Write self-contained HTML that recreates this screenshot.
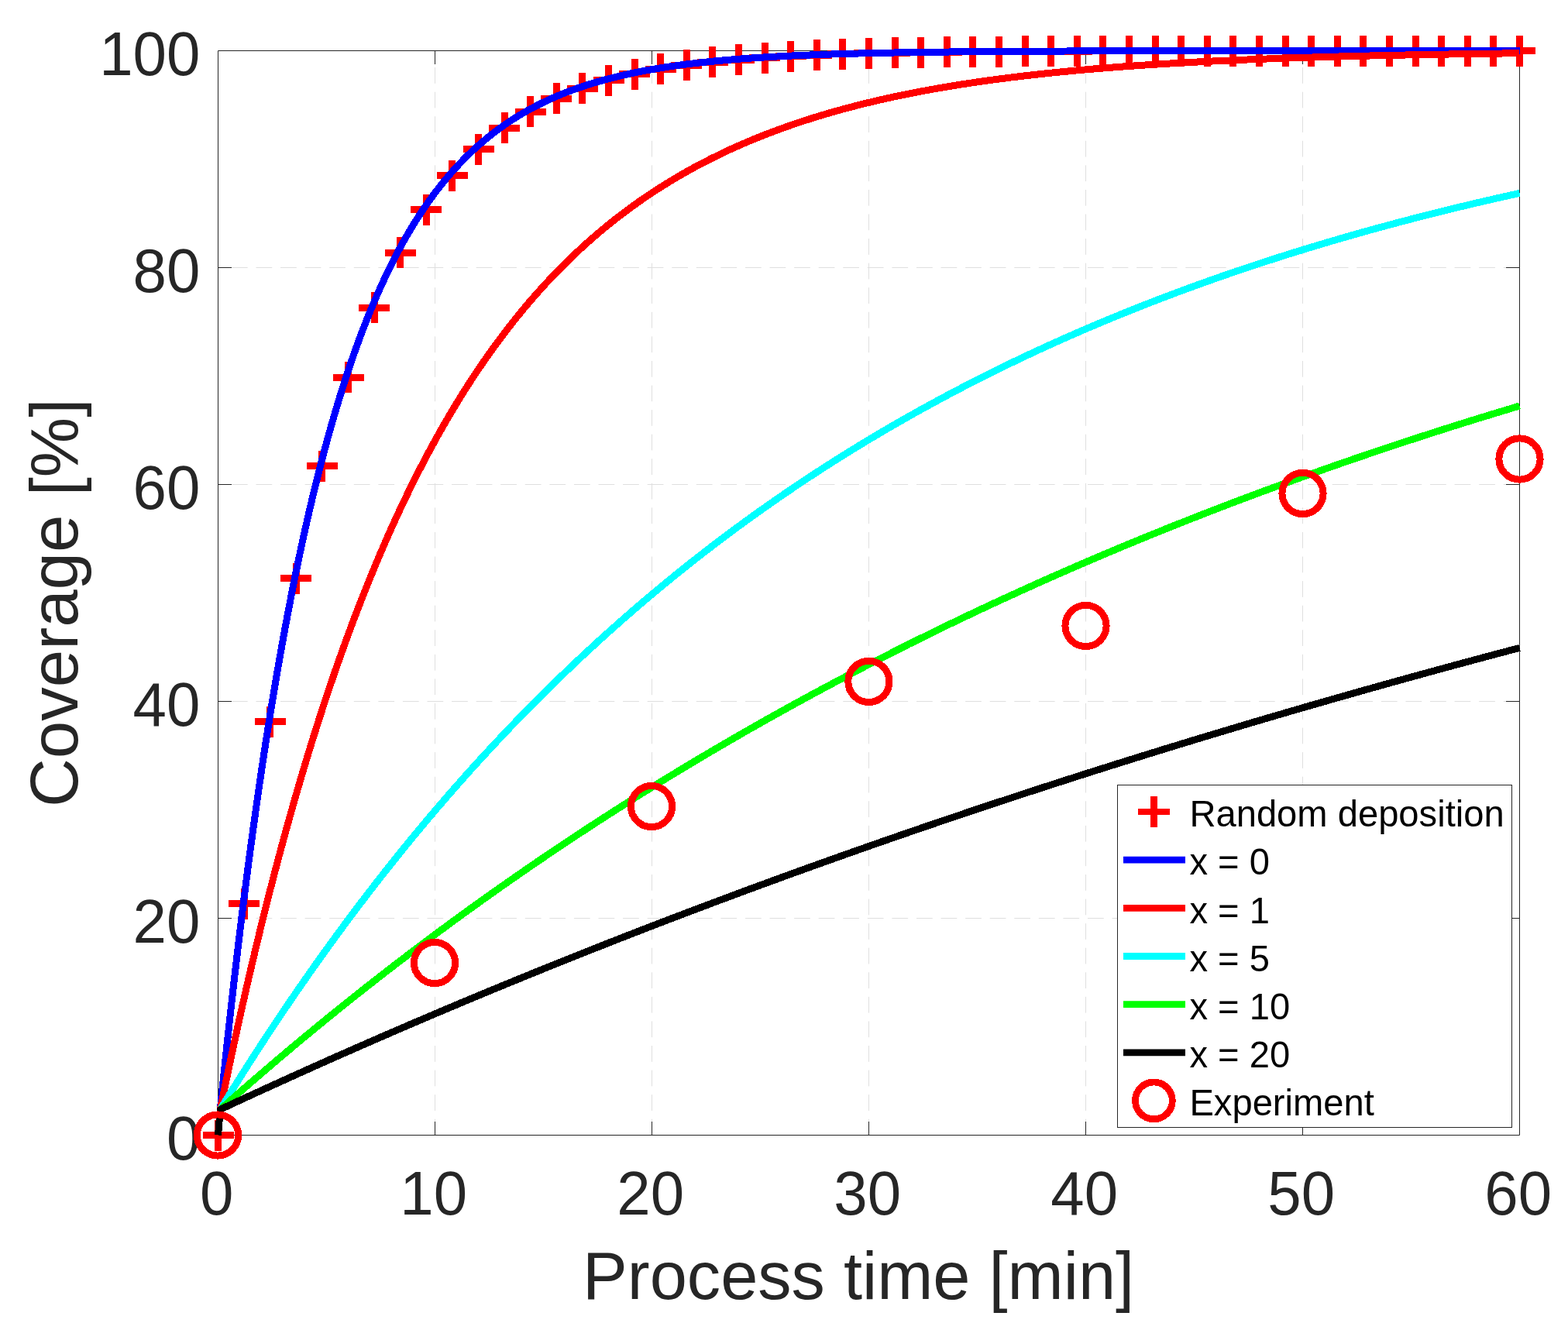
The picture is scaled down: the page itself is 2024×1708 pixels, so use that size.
<!DOCTYPE html><html><head><meta charset="utf-8"><title>Coverage vs process time</title>
<style>html,body{margin:0;padding:0;background:#fff;}svg{display:block;}text{font-family:"Liberation Sans",Arial,Helvetica,sans-serif;}</style></head><body>
<svg width="2024" height="1708" viewBox="0 0 2024 1708">
<rect x="0" y="0" width="2024" height="1708" fill="#ffffff"/>
<text transform="translate(279.7 1567.9) scale(1 1.02)" font-size="78.0" fill="#262626" text-anchor="middle">0</text>
<text transform="translate(559.7 1567.9) scale(1 1.02)" font-size="78.0" fill="#262626" text-anchor="middle">10</text>
<text transform="translate(839.7 1567.9) scale(1 1.02)" font-size="78.0" fill="#262626" text-anchor="middle">20</text>
<text transform="translate(1119.7 1567.9) scale(1 1.02)" font-size="78.0" fill="#262626" text-anchor="middle">30</text>
<text transform="translate(1399.7 1567.9) scale(1 1.02)" font-size="78.0" fill="#262626" text-anchor="middle">40</text>
<text transform="translate(1679.7 1567.9) scale(1 1.02)" font-size="78.0" fill="#262626" text-anchor="middle">50</text>
<text transform="translate(1959.7 1567.9) scale(1 1.02)" font-size="78.0" fill="#262626" text-anchor="middle">60</text>
<text transform="translate(258.3 1496.9) scale(1 1.02)" font-size="78.0" fill="#262626" text-anchor="end">0</text>
<text transform="translate(258.3 1216.9) scale(1 1.02)" font-size="78.0" fill="#262626" text-anchor="end">20</text>
<text transform="translate(258.3 936.9) scale(1 1.02)" font-size="78.0" fill="#262626" text-anchor="end">40</text>
<text transform="translate(258.3 656.9) scale(1 1.02)" font-size="78.0" fill="#262626" text-anchor="end">60</text>
<text transform="translate(258.3 376.9) scale(1 1.02)" font-size="78.0" fill="#262626" text-anchor="end">80</text>
<text transform="translate(258.3 96.9) scale(1 1.02)" font-size="78.0" fill="#262626" text-anchor="end">100</text>
<text transform="translate(752.1 1676.8) scale(1 1.01)" font-size="86.6" fill="#262626">Process time [min]</text>
<text transform="translate(99.6 1042.1) rotate(-90) scale(1 1.01)" font-size="87.1" fill="#262626">Coverage [%]</text>
<path d="M561.5 1465.5V65.5M841.5 1465.5V65.5M1121.5 1465.5V65.5M1401.5 1465.5V65.5M1681.5 1465.5V65.5" stroke="#dfdfdf" stroke-width="1" fill="none" stroke-dasharray="20.75 10.824"/>
<path d="M1961.5 1185.5H281.5M1961.5 905.5H281.5M1961.5 625.5H281.5M1961.5 345.5H281.5" stroke="#dfdfdf" stroke-width="1" fill="none" stroke-dasharray="20.75 10.824"/>
<path d="M281.5 65.5H1961.5V1465.5H281.5ZM561.5 1465.5v-17.5M561.5 65.5v17.5M841.5 1465.5v-17.5M841.5 65.5v17.5M1121.5 1465.5v-17.5M1121.5 65.5v17.5M1401.5 1465.5v-17.5M1401.5 65.5v17.5M1681.5 1465.5v-17.5M1681.5 65.5v17.5M281.5 1185.5h17.5M1961.5 1185.5h-17.5M281.5 905.5h17.5M1961.5 905.5h-17.5M281.5 625.5h17.5M1961.5 625.5h-17.5M281.5 345.5h17.5M1961.5 345.5h-17.5" stroke="#262626" stroke-width="1" fill="none"/>
<path d="M261.50 1465.50h40M281.50 1445.50v40M295.10 1166.78h40M315.10 1146.78v40M328.70 931.80h40M348.70 911.80v40M362.30 746.95h40M382.30 726.95v40M395.90 601.55h40M415.90 581.55v40M429.50 487.17h40M449.50 467.17v40M463.10 397.20h40M483.10 377.20v40M496.70 326.42h40M516.70 306.42v40M530.30 270.75h40M550.30 250.75v40M563.90 226.96h40M583.90 206.96v40M597.50 192.51h40M617.50 172.51v40M631.10 165.41h40M651.10 145.41v40M664.70 144.09h40M684.70 124.09v40M698.30 127.32h40M718.30 107.32v40M731.90 114.13h40M751.90 94.13v40M765.50 103.75h40M785.50 83.75v40M799.10 95.59h40M819.10 75.59v40M832.70 89.17h40M852.70 69.17v40M866.30 84.12h40M886.30 64.12v40M899.90 80.15h40M919.90 60.15v40M933.50 77.02h40M953.50 57.02v40M967.10 74.56h40M987.10 54.56v40M1000.70 72.63h40M1020.70 52.63v40M1034.30 71.11h40M1054.30 51.11v40M1067.90 69.91h40M1087.90 49.91v40M1101.50 68.97h40M1121.50 48.97v40M1135.10 68.23h40M1155.10 48.23v40M1168.70 67.65h40M1188.70 47.65v40M1202.30 67.19h40M1222.30 47.19v40M1235.90 66.83h40M1255.90 46.83v40M1269.50 66.55h40M1289.50 46.55v40M1303.10 66.32h40M1323.10 46.32v40M1336.70 66.15h40M1356.70 46.15v40M1370.30 66.01h40M1390.30 46.01v40M1403.90 65.90h40M1423.90 45.90v40M1437.50 65.81h40M1457.50 45.81v40M1471.10 65.75h40M1491.10 45.75v40M1504.70 65.69h40M1524.70 45.69v40M1538.30 65.65h40M1558.30 45.65v40M1571.90 65.62h40M1591.90 45.62v40M1605.50 65.59h40M1625.50 45.59v40M1639.10 65.57h40M1659.10 45.57v40M1672.70 65.56h40M1692.70 45.56v40M1706.30 65.55h40M1726.30 45.55v40M1739.90 65.54h40M1759.90 45.54v40M1773.50 65.53h40M1793.50 45.53v40M1807.10 65.52h40M1827.10 45.52v40M1840.70 65.52h40M1860.70 45.52v40M1874.30 65.51h40M1894.30 45.51v40M1907.90 65.51h40M1927.90 45.51v40M1941.50 65.51h40M1961.50 45.51v40" stroke="#ff0000" stroke-width="9" fill="none" shape-rendering="crispEdges"/>
<path d="M281.50 1465.50L284.30 1432.32L287.10 1404.92L289.89 1378.07L292.69 1351.76L295.48 1325.97L298.28 1300.70L301.07 1275.94L303.87 1251.68L306.66 1227.90L309.46 1204.60L312.25 1181.76L315.05 1159.38L317.84 1137.46L320.64 1115.97L323.43 1094.91L326.23 1074.27L329.03 1054.05L331.82 1034.23L334.62 1014.81L337.41 995.78L340.21 977.13L343.00 958.86L345.80 940.95L348.59 923.40L351.39 906.20L354.18 889.35L356.98 872.83L359.77 856.65L362.57 840.79L365.36 825.25L368.16 810.02L370.96 795.09L373.75 780.47L376.55 766.13L379.34 752.09L382.14 738.33L384.93 724.84L387.73 711.62L390.52 698.67L393.32 685.98L396.11 673.54L398.91 661.35L401.70 649.40L404.50 637.70L407.29 626.23L410.09 614.99L412.89 603.97L415.68 593.18L418.48 582.60L421.27 572.23L424.07 562.07L426.86 552.12L429.66 542.36L432.45 532.81L435.25 523.44L438.04 514.26L440.84 505.26L443.63 496.45L446.43 487.81L449.22 479.34L452.02 471.05L454.82 462.92L457.61 454.95L460.41 447.14L463.20 439.49L466.00 431.99L468.79 424.65L471.59 417.45L474.38 410.39L477.18 403.48L479.97 396.70L482.77 390.06L485.56 383.56L488.36 377.18L491.15 370.93L493.95 364.81L496.75 358.81L499.54 352.93L502.34 347.17L505.13 341.52L507.93 335.99L510.72 330.57L513.52 325.25L516.31 320.05L519.11 314.94L521.90 309.94L524.70 305.04L527.49 300.24L530.29 295.53L533.08 290.92L535.88 286.40L538.68 281.98L541.47 277.64L544.27 273.38L547.06 269.22L549.86 265.13L552.65 261.13L555.45 257.21L558.24 253.37L561.04 249.60L563.83 245.91L566.63 242.29L569.42 238.75L572.22 235.28L575.01 231.87L577.81 228.54L580.61 225.27L583.40 222.07L586.20 218.93L588.99 215.85L591.79 212.84L594.58 209.88L597.38 206.99L600.17 204.15L602.97 201.37L605.76 198.65L608.56 195.98L611.35 193.36L614.15 190.80L616.94 188.29L619.74 185.83L622.54 183.42L625.33 181.05L628.13 178.74L630.92 176.47L633.72 174.24L636.51 172.06L639.31 169.93L642.10 167.83L644.90 165.78L647.69 163.77L650.49 161.80L653.28 159.87L656.08 157.98L658.87 156.12L661.67 154.31L664.47 152.53L667.26 150.78L670.06 149.07L672.85 147.40L675.65 145.76L678.44 144.15L681.24 142.57L684.03 141.03L686.83 139.51L689.62 138.03L692.42 136.57L695.21 135.15L698.01 133.75L700.80 132.38L703.60 131.04L706.40 129.73L709.19 128.44L711.99 127.18L714.78 125.94L717.58 124.73L720.37 123.54L723.17 122.38L725.96 121.24L728.76 120.12L731.55 119.03L734.35 117.96L737.14 116.90L739.94 115.87L742.73 114.86L745.53 113.87L748.33 112.90L751.12 111.95L753.92 111.02L756.71 110.11L759.51 109.22L762.30 108.34L765.10 107.48L767.89 106.64L770.69 105.81L773.48 105.01L776.28 104.21L779.07 103.44L781.87 102.68L784.66 101.93L787.46 101.20L790.26 100.49L793.05 99.79L795.85 99.10L798.64 98.42L801.44 97.76L804.23 97.12L807.03 96.48L809.82 95.86L812.62 95.25L815.41 94.66L818.21 94.07L821.00 93.50L823.80 92.94L826.59 92.39L829.39 91.85L832.19 91.32L834.98 90.80L837.78 90.30L840.57 89.80L843.37 89.31L846.16 88.84L848.96 88.37L851.75 87.91L854.55 87.46L857.34 87.02L860.14 86.59L862.93 86.17L865.73 85.75L868.52 85.35L871.32 84.95L874.12 84.56L876.91 84.18L879.71 83.80L882.50 83.43L885.30 83.07L888.09 82.72L890.89 82.38L893.68 82.04L896.48 81.71L899.27 81.38L902.07 81.06L904.86 80.75L907.66 80.45L910.45 80.15L913.25 79.85L916.05 79.57L918.84 79.28L921.64 79.01L924.43 78.74L927.23 78.47L930.02 78.21L932.82 77.96L935.61 77.71L938.41 77.46L941.20 77.22L944.00 76.99L946.79 76.76L949.59 76.53L952.38 76.31L955.18 76.09L957.98 75.88L960.77 75.67L963.57 75.47L966.36 75.27L969.16 75.07L971.95 74.88L974.75 74.69L977.54 74.51L980.34 74.33L983.13 74.15L985.93 73.98L988.72 73.81L991.52 73.64L994.31 73.48L997.11 73.32L999.91 73.16L1002.70 73.01L1005.50 72.86L1008.29 72.71L1011.09 72.57L1013.88 72.42L1016.68 72.28L1019.47 72.15L1022.27 72.02L1025.06 71.88L1027.86 71.76L1030.65 71.63L1033.45 71.51L1036.24 71.39L1039.04 71.27L1041.84 71.15L1044.63 71.04L1047.43 70.93L1050.22 70.82L1053.02 70.71L1055.81 70.61L1058.61 70.51L1061.40 70.41L1064.20 70.31L1066.99 70.21L1069.79 70.12L1072.58 70.03L1075.38 69.93L1078.17 69.85L1080.97 69.76L1083.77 69.67L1086.56 69.59L1089.36 69.51L1092.15 69.43L1094.95 69.35L1097.74 69.27L1100.54 69.20L1103.33 69.12L1106.13 69.05L1108.92 68.98L1111.72 68.91L1114.51 68.84L1117.31 68.77L1120.10 68.71L1122.90 68.64L1125.70 68.58L1128.49 68.52L1131.29 68.46L1134.08 68.40L1136.88 68.34L1139.67 68.28L1142.47 68.23L1145.26 68.17L1148.06 68.12L1150.85 68.07L1153.65 68.02L1156.44 67.96L1159.24 67.92L1162.03 67.87L1164.83 67.82L1167.63 67.77L1170.42 67.73L1173.22 67.68L1176.01 67.64L1178.81 67.60L1181.60 67.55L1184.40 67.51L1187.19 67.47L1189.99 67.43L1192.78 67.39L1195.58 67.36L1198.37 67.32L1201.17 67.28L1203.96 67.25L1206.76 67.21L1209.56 67.18L1212.35 67.14L1215.15 67.11L1217.94 67.08L1220.74 67.05L1223.53 67.02L1226.33 66.99L1229.12 66.96L1231.92 66.93L1234.71 66.90L1237.51 66.87L1240.30 66.84L1243.10 66.82L1245.89 66.79L1248.69 66.76L1251.49 66.74L1254.28 66.71L1257.08 66.69L1259.87 66.67L1262.67 66.64L1265.46 66.62L1268.26 66.60L1271.05 66.57L1273.85 66.55L1276.64 66.53L1279.44 66.51L1282.23 66.49L1285.03 66.47L1287.82 66.45L1290.62 66.43L1293.42 66.41L1296.21 66.40L1299.01 66.38L1301.80 66.36L1304.60 66.34L1307.39 66.33L1310.19 66.31L1312.98 66.29L1315.78 66.28L1318.57 66.26L1321.37 66.25L1324.16 66.23L1326.96 66.22L1329.75 66.20L1332.55 66.19L1335.35 66.17L1338.14 66.16L1340.94 66.15L1343.73 66.13L1346.53 66.12L1349.32 66.11L1352.12 66.10L1354.91 66.09L1357.71 66.07L1360.50 66.06L1363.30 66.05L1366.09 66.04L1368.89 66.03L1371.68 66.02L1374.48 66.01L1377.28 66.00L1380.07 65.99L1382.87 65.98L1385.66 65.97L1388.46 65.96L1391.25 65.95L1394.05 65.94L1396.84 65.93L1399.64 65.92L1402.43 65.91L1405.23 65.91L1408.02 65.90L1410.82 65.89L1413.61 65.88L1416.41 65.87L1419.21 65.87L1422.00 65.86L1424.80 65.85L1427.59 65.85L1430.39 65.84L1433.18 65.83L1435.98 65.83L1438.77 65.82L1441.57 65.81L1444.36 65.81L1447.16 65.80L1449.95 65.79L1452.75 65.79L1455.54 65.78L1458.34 65.78L1461.14 65.77L1463.93 65.77L1466.73 65.76L1469.52 65.76L1472.32 65.75L1475.11 65.75L1477.91 65.74L1480.70 65.74L1483.50 65.73L1486.29 65.73L1489.09 65.72L1491.88 65.72L1494.68 65.71L1497.47 65.71L1500.27 65.70L1503.07 65.70L1505.86 65.70L1508.66 65.69L1511.45 65.69L1514.25 65.68L1517.04 65.68L1519.84 65.68L1522.63 65.67L1525.43 65.67L1528.22 65.67L1531.02 65.66L1533.81 65.66L1536.61 65.66L1539.40 65.65L1542.20 65.65L1545.00 65.65L1547.79 65.64L1550.59 65.64L1553.38 65.64L1556.18 65.64L1558.97 65.63L1561.77 65.63L1564.56 65.63L1567.36 65.63L1570.15 65.62L1572.95 65.62L1575.74 65.62L1578.54 65.62L1581.33 65.61L1584.13 65.61L1586.93 65.61L1589.72 65.61L1592.52 65.60L1595.31 65.60L1598.11 65.60L1600.90 65.60L1603.70 65.60L1606.49 65.59L1609.29 65.59L1612.08 65.59L1614.88 65.59L1617.67 65.59L1620.47 65.59L1623.26 65.58L1626.06 65.58L1628.86 65.58L1631.65 65.58L1634.45 65.58L1637.24 65.58L1640.04 65.57L1642.83 65.57L1645.63 65.57L1648.42 65.57L1651.22 65.57L1654.01 65.57L1656.81 65.57L1659.60 65.56L1662.40 65.56L1665.19 65.56L1667.99 65.56L1670.79 65.56L1673.58 65.56L1676.38 65.56L1679.17 65.56L1681.97 65.55L1684.76 65.55L1687.56 65.55L1690.35 65.55L1693.15 65.55L1695.94 65.55L1698.74 65.55L1701.53 65.55L1704.33 65.55L1707.12 65.55L1709.92 65.54L1712.72 65.54L1715.51 65.54L1718.31 65.54L1721.10 65.54L1723.90 65.54L1726.69 65.54L1729.49 65.54L1732.28 65.54L1735.08 65.54L1737.87 65.54L1740.67 65.54L1743.46 65.54L1746.26 65.53L1749.05 65.53L1751.85 65.53L1754.65 65.53L1757.44 65.53L1760.24 65.53L1763.03 65.53L1765.83 65.53L1768.62 65.53L1771.42 65.53L1774.21 65.53L1777.01 65.53L1779.80 65.53L1782.60 65.53L1785.39 65.53L1788.19 65.53L1790.98 65.52L1793.78 65.52L1796.58 65.52L1799.37 65.52L1802.17 65.52L1804.96 65.52L1807.76 65.52L1810.55 65.52L1813.35 65.52L1816.14 65.52L1818.94 65.52L1821.73 65.52L1824.53 65.52L1827.32 65.52L1830.12 65.52L1832.91 65.52L1835.71 65.52L1838.51 65.52L1841.30 65.52L1844.10 65.52L1846.89 65.52L1849.69 65.52L1852.48 65.52L1855.28 65.52L1858.07 65.52L1860.87 65.51L1863.66 65.51L1866.46 65.51L1869.25 65.51L1872.05 65.51L1874.84 65.51L1877.64 65.51L1880.44 65.51L1883.23 65.51L1886.03 65.51L1888.82 65.51L1891.62 65.51L1894.41 65.51L1897.21 65.51L1900.00 65.51L1902.80 65.51L1905.59 65.51L1908.39 65.51L1911.18 65.51L1913.98 65.51L1916.77 65.51L1919.57 65.51L1922.37 65.51L1925.16 65.51L1927.96 65.51L1930.75 65.51L1933.55 65.51L1936.34 65.51L1939.14 65.51L1941.93 65.51L1944.73 65.51L1947.52 65.51L1950.32 65.51L1953.11 65.51L1955.91 65.51L1958.70 65.51L1961.50 65.51" stroke="#0000ff" stroke-width="9.0" fill="none" stroke-linejoin="round" stroke-linecap="butt" shape-rendering="crispEdges"/>
<path d="M281.50 1465.50L284.30 1432.32L287.10 1418.62L289.89 1405.06L292.69 1391.63L295.48 1378.34L298.28 1365.18L301.07 1352.15L303.87 1339.25L306.66 1326.49L309.46 1313.85L312.25 1301.34L315.05 1288.95L317.84 1276.68L320.64 1264.54L323.43 1252.53L326.23 1240.63L329.03 1228.85L331.82 1217.19L334.62 1205.64L337.41 1194.22L340.21 1182.90L343.00 1171.70L345.80 1160.61L348.59 1149.64L351.39 1138.77L354.18 1128.01L356.98 1117.36L359.77 1106.82L362.57 1096.38L365.36 1086.05L368.16 1075.82L370.96 1065.69L373.75 1055.67L376.55 1045.74L379.34 1035.92L382.14 1026.19L384.93 1016.56L387.73 1007.03L390.52 997.59L393.32 988.25L396.11 979.00L398.91 969.84L401.70 960.78L404.50 951.80L407.29 942.92L410.09 934.13L412.89 925.42L415.68 916.80L418.48 908.27L421.27 899.82L424.07 891.46L426.86 883.18L429.66 874.98L432.45 866.87L435.25 858.84L438.04 850.88L440.84 843.01L443.63 835.22L446.43 827.50L449.22 819.86L452.02 812.30L454.82 804.82L457.61 797.41L460.41 790.07L463.20 782.81L466.00 775.62L468.79 768.50L471.59 761.45L474.38 754.48L477.18 747.57L479.97 740.74L482.77 733.97L485.56 727.27L488.36 720.63L491.15 714.07L493.95 707.57L496.75 701.13L499.54 694.76L502.34 688.45L505.13 682.21L507.93 676.03L510.72 669.91L513.52 663.85L516.31 657.85L519.11 651.91L521.90 646.04L524.70 640.22L527.49 634.46L530.29 628.75L533.08 623.11L535.88 617.52L538.68 611.99L541.47 606.51L544.27 601.09L547.06 595.72L549.86 590.40L552.65 585.14L555.45 579.93L558.24 574.78L561.04 569.67L563.83 564.62L566.63 559.61L569.42 554.66L572.22 549.76L575.01 544.91L577.81 540.10L580.61 535.34L583.40 530.63L586.20 525.97L588.99 521.36L591.79 516.79L594.58 512.26L597.38 507.78L600.17 503.35L602.97 498.96L605.76 494.62L608.56 490.32L611.35 486.06L614.15 481.84L616.94 477.67L619.74 473.54L622.54 469.45L625.33 465.40L628.13 461.39L630.92 457.42L633.72 453.49L636.51 449.61L639.31 445.76L642.10 441.94L644.90 438.17L647.69 434.44L650.49 430.74L653.28 427.08L656.08 423.45L658.87 419.86L661.67 416.31L664.47 412.80L667.26 409.32L670.06 405.87L672.85 402.46L675.65 399.08L678.44 395.74L681.24 392.43L684.03 389.15L686.83 385.91L689.62 382.69L692.42 379.51L695.21 376.37L698.01 373.25L700.80 370.17L703.60 367.11L706.40 364.09L709.19 361.10L711.99 358.13L714.78 355.20L717.58 352.30L720.37 349.42L723.17 346.58L725.96 343.76L728.76 340.97L731.55 338.21L734.35 335.47L737.14 332.77L739.94 330.09L742.73 327.44L745.53 324.81L748.33 322.21L751.12 319.64L753.92 317.09L756.71 314.57L759.51 312.07L762.30 309.60L765.10 307.16L767.89 304.73L770.69 302.34L773.48 299.96L776.28 297.61L779.07 295.29L781.87 292.98L784.66 290.70L787.46 288.44L790.26 286.21L793.05 284.00L795.85 281.81L798.64 279.64L801.44 277.49L804.23 275.37L807.03 273.26L809.82 271.18L812.62 269.12L815.41 267.08L818.21 265.06L821.00 263.06L823.80 261.08L826.59 259.12L829.39 257.18L832.19 255.26L834.98 253.35L837.78 251.47L840.57 249.61L843.37 247.76L846.16 245.93L848.96 244.13L851.75 242.34L854.55 240.56L857.34 238.81L860.14 237.07L862.93 235.35L865.73 233.65L868.52 231.96L871.32 230.30L874.12 228.64L876.91 227.01L879.71 225.39L882.50 223.79L885.30 222.20L888.09 220.63L890.89 219.07L893.68 217.53L896.48 216.01L899.27 214.50L902.07 213.01L904.86 211.53L907.66 210.07L910.45 208.62L913.25 207.18L916.05 205.76L918.84 204.36L921.64 202.97L924.43 201.59L927.23 200.22L930.02 198.87L932.82 197.54L935.61 196.21L938.41 194.90L941.20 193.61L944.00 192.32L946.79 191.05L949.59 189.79L952.38 188.55L955.18 187.31L957.98 186.09L960.77 184.88L963.57 183.69L966.36 182.50L969.16 181.33L971.95 180.17L974.75 179.02L977.54 177.88L980.34 176.75L983.13 175.64L985.93 174.53L988.72 173.44L991.52 172.36L994.31 171.29L997.11 170.23L999.91 169.18L1002.70 168.14L1005.50 167.11L1008.29 166.09L1011.09 165.08L1013.88 164.09L1016.68 163.10L1019.47 162.12L1022.27 161.15L1025.06 160.19L1027.86 159.24L1030.65 158.30L1033.45 157.37L1036.24 156.45L1039.04 155.54L1041.84 154.64L1044.63 153.74L1047.43 152.86L1050.22 151.98L1053.02 151.12L1055.81 150.26L1058.61 149.41L1061.40 148.57L1064.20 147.74L1066.99 146.91L1069.79 146.10L1072.58 145.29L1075.38 144.49L1078.17 143.70L1080.97 142.91L1083.77 142.14L1086.56 141.37L1089.36 140.61L1092.15 139.86L1094.95 139.11L1097.74 138.37L1100.54 137.64L1103.33 136.92L1106.13 136.20L1108.92 135.49L1111.72 134.79L1114.51 134.10L1117.31 133.41L1120.10 132.73L1122.90 132.06L1125.70 131.39L1128.49 130.73L1131.29 130.07L1134.08 129.43L1136.88 128.79L1139.67 128.15L1142.47 127.52L1145.26 126.90L1148.06 126.29L1150.85 125.68L1153.65 125.07L1156.44 124.48L1159.24 123.89L1162.03 123.30L1164.83 122.72L1167.63 122.15L1170.42 121.58L1173.22 121.02L1176.01 120.46L1178.81 119.91L1181.60 119.37L1184.40 118.83L1187.19 118.29L1189.99 117.76L1192.78 117.24L1195.58 116.72L1198.37 116.21L1201.17 115.70L1203.96 115.19L1206.76 114.70L1209.56 114.20L1212.35 113.72L1215.15 113.23L1217.94 112.75L1220.74 112.28L1223.53 111.81L1226.33 111.35L1229.12 110.89L1231.92 110.43L1234.71 109.98L1237.51 109.54L1240.30 109.09L1243.10 108.66L1245.89 108.23L1248.69 107.80L1251.49 107.37L1254.28 106.95L1257.08 106.54L1259.87 106.13L1262.67 105.72L1265.46 105.32L1268.26 104.92L1271.05 104.52L1273.85 104.13L1276.64 103.74L1279.44 103.36L1282.23 102.98L1285.03 102.60L1287.82 102.23L1290.62 101.86L1293.42 101.50L1296.21 101.14L1299.01 100.78L1301.80 100.43L1304.60 100.08L1307.39 99.73L1310.19 99.39L1312.98 99.05L1315.78 98.71L1318.57 98.38L1321.37 98.05L1324.16 97.72L1326.96 97.40L1329.75 97.08L1332.55 96.76L1335.35 96.45L1338.14 96.14L1340.94 95.83L1343.73 95.53L1346.53 95.23L1349.32 94.93L1352.12 94.64L1354.91 94.34L1357.71 94.05L1360.50 93.77L1363.30 93.49L1366.09 93.20L1368.89 92.93L1371.68 92.65L1374.48 92.38L1377.28 92.11L1380.07 91.84L1382.87 91.58L1385.66 91.32L1388.46 91.06L1391.25 90.80L1394.05 90.55L1396.84 90.30L1399.64 90.05L1402.43 89.80L1405.23 89.56L1408.02 89.32L1410.82 89.08L1413.61 88.84L1416.41 88.61L1419.21 88.38L1422.00 88.15L1424.80 87.92L1427.59 87.70L1430.39 87.47L1433.18 87.25L1435.98 87.04L1438.77 86.82L1441.57 86.61L1444.36 86.40L1447.16 86.19L1449.95 85.98L1452.75 85.77L1455.54 85.57L1458.34 85.37L1461.14 85.17L1463.93 84.97L1466.73 84.78L1469.52 84.58L1472.32 84.39L1475.11 84.20L1477.91 84.02L1480.70 83.83L1483.50 83.65L1486.29 83.46L1489.09 83.28L1491.88 83.11L1494.68 82.93L1497.47 82.76L1500.27 82.58L1503.07 82.41L1505.86 82.24L1508.66 82.07L1511.45 81.91L1514.25 81.74L1517.04 81.58L1519.84 81.42L1522.63 81.26L1525.43 81.10L1528.22 80.95L1531.02 80.79L1533.81 80.64L1536.61 80.49L1539.40 80.34L1542.20 80.19L1545.00 80.04L1547.79 79.89L1550.59 79.75L1553.38 79.61L1556.18 79.47L1558.97 79.33L1561.77 79.19L1564.56 79.05L1567.36 78.91L1570.15 78.78L1572.95 78.65L1575.74 78.51L1578.54 78.38L1581.33 78.25L1584.13 78.13L1586.93 78.00L1589.72 77.88L1592.52 77.75L1595.31 77.63L1598.11 77.51L1600.90 77.39L1603.70 77.27L1606.49 77.15L1609.29 77.03L1612.08 76.92L1614.88 76.80L1617.67 76.69L1620.47 76.58L1623.26 76.47L1626.06 76.36L1628.86 76.25L1631.65 76.14L1634.45 76.03L1637.24 75.93L1640.04 75.82L1642.83 75.72L1645.63 75.62L1648.42 75.52L1651.22 75.42L1654.01 75.32L1656.81 75.22L1659.60 75.12L1662.40 75.02L1665.19 74.93L1667.99 74.83L1670.79 74.74L1673.58 74.65L1676.38 74.56L1679.17 74.46L1681.97 74.38L1684.76 74.29L1687.56 74.20L1690.35 74.11L1693.15 74.02L1695.94 73.94L1698.74 73.85L1701.53 73.77L1704.33 73.69L1707.12 73.61L1709.92 73.52L1712.72 73.44L1715.51 73.36L1718.31 73.29L1721.10 73.21L1723.90 73.13L1726.69 73.05L1729.49 72.98L1732.28 72.90L1735.08 72.83L1737.87 72.76L1740.67 72.68L1743.46 72.61L1746.26 72.54L1749.05 72.47L1751.85 72.40L1754.65 72.33L1757.44 72.26L1760.24 72.19L1763.03 72.13L1765.83 72.06L1768.62 71.99L1771.42 71.93L1774.21 71.86L1777.01 71.80L1779.80 71.74L1782.60 71.68L1785.39 71.61L1788.19 71.55L1790.98 71.49L1793.78 71.43L1796.58 71.37L1799.37 71.31L1802.17 71.25L1804.96 71.20L1807.76 71.14L1810.55 71.08L1813.35 71.03L1816.14 70.97L1818.94 70.92L1821.73 70.86L1824.53 70.81L1827.32 70.76L1830.12 70.70L1832.91 70.65L1835.71 70.60L1838.51 70.55L1841.30 70.50L1844.10 70.45L1846.89 70.40L1849.69 70.35L1852.48 70.30L1855.28 70.25L1858.07 70.20L1860.87 70.16L1863.66 70.11L1866.46 70.06L1869.25 70.02L1872.05 69.97L1874.84 69.93L1877.64 69.88L1880.44 69.84L1883.23 69.80L1886.03 69.75L1888.82 69.71L1891.62 69.67L1894.41 69.63L1897.21 69.59L1900.00 69.54L1902.80 69.50L1905.59 69.46L1908.39 69.42L1911.18 69.39L1913.98 69.35L1916.77 69.31L1919.57 69.27L1922.37 69.23L1925.16 69.19L1927.96 69.16L1930.75 69.12L1933.55 69.08L1936.34 69.05L1939.14 69.01L1941.93 68.98L1944.73 68.94L1947.52 68.91L1950.32 68.87L1953.11 68.84L1955.91 68.81L1958.70 68.77L1961.50 68.74" stroke="#ff0000" stroke-width="9.0" fill="none" stroke-linejoin="round" stroke-linecap="butt" shape-rendering="crispEdges"/>
<path d="M281.50 1465.50L284.30 1432.32L287.10 1427.76L289.89 1423.21L292.69 1418.68L295.48 1414.16L298.28 1409.66L301.07 1405.17L303.87 1400.70L306.66 1396.25L309.46 1391.80L312.25 1387.38L315.05 1382.97L317.84 1378.57L320.64 1374.19L323.43 1369.82L326.23 1365.46L329.03 1361.12L331.82 1356.80L334.62 1352.49L337.41 1348.19L340.21 1343.91L343.00 1339.65L345.80 1335.39L348.59 1331.15L351.39 1326.93L354.18 1322.72L356.98 1318.52L359.77 1314.34L362.57 1310.17L365.36 1306.02L368.16 1301.88L370.96 1297.75L373.75 1293.64L376.55 1289.54L379.34 1285.45L382.14 1281.38L384.93 1277.32L387.73 1273.28L390.52 1269.25L393.32 1265.23L396.11 1261.22L398.91 1257.23L401.70 1253.25L404.50 1249.29L407.29 1245.34L410.09 1241.40L412.89 1237.48L415.68 1233.56L418.48 1229.67L421.27 1225.78L424.07 1221.91L426.86 1218.05L429.66 1214.20L432.45 1210.37L435.25 1206.54L438.04 1202.74L440.84 1198.94L443.63 1195.16L446.43 1191.39L449.22 1187.63L452.02 1183.88L454.82 1180.15L457.61 1176.43L460.41 1172.72L463.20 1169.03L466.00 1165.34L468.79 1161.67L471.59 1158.01L474.38 1154.37L477.18 1150.73L479.97 1147.11L482.77 1143.50L485.56 1139.90L488.36 1136.32L491.15 1132.74L493.95 1129.18L496.75 1125.63L499.54 1122.09L502.34 1118.56L505.13 1115.05L507.93 1111.55L510.72 1108.05L513.52 1104.57L516.31 1101.11L519.11 1097.65L521.90 1094.20L524.70 1090.77L527.49 1087.35L530.29 1083.94L533.08 1080.54L535.88 1077.15L538.68 1073.77L541.47 1070.41L544.27 1067.05L547.06 1063.71L549.86 1060.38L552.65 1057.06L555.45 1053.75L558.24 1050.45L561.04 1047.16L563.83 1043.89L566.63 1040.62L569.42 1037.37L572.22 1034.12L575.01 1030.89L577.81 1027.67L580.61 1024.45L583.40 1021.25L586.20 1018.06L588.99 1014.88L591.79 1011.72L594.58 1008.56L597.38 1005.41L600.17 1002.27L602.97 999.15L605.76 996.03L608.56 992.92L611.35 989.83L614.15 986.74L616.94 983.67L619.74 980.60L622.54 977.55L625.33 974.50L628.13 971.47L630.92 968.45L633.72 965.43L636.51 962.43L639.31 959.43L642.10 956.45L644.90 953.48L647.69 950.51L650.49 947.56L653.28 944.62L656.08 941.68L658.87 938.76L661.67 935.84L664.47 932.94L667.26 930.04L670.06 927.16L672.85 924.28L675.65 921.41L678.44 918.56L681.24 915.71L684.03 912.87L686.83 910.04L689.62 907.22L692.42 904.41L695.21 901.61L698.01 898.82L700.80 896.04L703.60 893.27L706.40 890.51L709.19 887.75L711.99 885.01L714.78 882.27L717.58 879.55L720.37 876.83L723.17 874.12L725.96 871.42L728.76 868.73L731.55 866.05L734.35 863.38L737.14 860.72L739.94 858.06L742.73 855.42L745.53 852.78L748.33 850.15L751.12 847.53L753.92 844.92L756.71 842.32L759.51 839.73L762.30 837.14L765.10 834.57L767.89 832.00L770.69 829.44L773.48 826.89L776.28 824.35L779.07 821.82L781.87 819.30L784.66 816.78L787.46 814.27L790.26 811.77L793.05 809.28L795.85 806.80L798.64 804.32L801.44 801.86L804.23 799.40L807.03 796.95L809.82 794.51L812.62 792.08L815.41 789.65L818.21 787.23L821.00 784.82L823.80 782.42L826.59 780.03L829.39 777.65L832.19 775.27L834.98 772.90L837.78 770.54L840.57 768.19L843.37 765.84L846.16 763.50L848.96 761.17L851.75 758.85L854.55 756.54L857.34 754.23L860.14 751.93L862.93 749.64L865.73 747.36L868.52 745.08L871.32 742.81L874.12 740.55L876.91 738.30L879.71 736.05L882.50 733.81L885.30 731.58L888.09 729.36L890.89 727.14L893.68 724.94L896.48 722.74L899.27 720.54L902.07 718.36L904.86 716.18L907.66 714.00L910.45 711.84L913.25 709.68L916.05 707.53L918.84 705.39L921.64 703.25L924.43 701.12L927.23 699.00L930.02 696.89L932.82 694.78L935.61 692.68L938.41 690.59L941.20 688.50L944.00 686.42L946.79 684.35L949.59 682.28L952.38 680.22L955.18 678.17L957.98 676.13L960.77 674.09L963.57 672.06L966.36 670.03L969.16 668.02L971.95 666.00L974.75 664.00L977.54 662.00L980.34 660.01L983.13 658.03L985.93 656.05L988.72 654.08L991.52 652.11L994.31 650.16L997.11 648.20L999.91 646.26L1002.70 644.32L1005.50 642.39L1008.29 640.46L1011.09 638.54L1013.88 636.63L1016.68 634.73L1019.47 632.83L1022.27 630.93L1025.06 629.04L1027.86 627.16L1030.65 625.29L1033.45 623.42L1036.24 621.56L1039.04 619.70L1041.84 617.85L1044.63 616.01L1047.43 614.17L1050.22 612.34L1053.02 610.51L1055.81 608.70L1058.61 606.88L1061.40 605.08L1064.20 603.27L1066.99 601.48L1069.79 599.69L1072.58 597.91L1075.38 596.13L1078.17 594.36L1080.97 592.59L1083.77 590.83L1086.56 589.08L1089.36 587.33L1092.15 585.59L1094.95 583.86L1097.74 582.13L1100.54 580.40L1103.33 578.68L1106.13 576.97L1108.92 575.26L1111.72 573.56L1114.51 571.87L1117.31 570.18L1120.10 568.49L1122.90 566.81L1125.70 565.14L1128.49 563.47L1131.29 561.81L1134.08 560.15L1136.88 558.50L1139.67 556.86L1142.47 555.22L1145.26 553.58L1148.06 551.95L1150.85 550.33L1153.65 548.71L1156.44 547.10L1159.24 545.49L1162.03 543.89L1164.83 542.29L1167.63 540.70L1170.42 539.11L1173.22 537.53L1176.01 535.96L1178.81 534.39L1181.60 532.82L1184.40 531.26L1187.19 529.71L1189.99 528.16L1192.78 526.61L1195.58 525.07L1198.37 523.54L1201.17 522.01L1203.96 520.49L1206.76 518.97L1209.56 517.46L1212.35 515.95L1215.15 514.44L1217.94 512.94L1220.74 511.45L1223.53 509.96L1226.33 508.48L1229.12 507.00L1231.92 505.53L1234.71 504.06L1237.51 502.59L1240.30 501.14L1243.10 499.68L1245.89 498.23L1248.69 496.79L1251.49 495.35L1254.28 493.91L1257.08 492.48L1259.87 491.06L1262.67 489.64L1265.46 488.22L1268.26 486.81L1271.05 485.41L1273.85 484.00L1276.64 482.61L1279.44 481.21L1282.23 479.83L1285.03 478.44L1287.82 477.07L1290.62 475.69L1293.42 474.32L1296.21 472.96L1299.01 471.60L1301.80 470.24L1304.60 468.89L1307.39 467.55L1310.19 466.20L1312.98 464.87L1315.78 463.53L1318.57 462.20L1321.37 460.88L1324.16 459.56L1326.96 458.25L1329.75 456.93L1332.55 455.63L1335.35 454.33L1338.14 453.03L1340.94 451.73L1343.73 450.45L1346.53 449.16L1349.32 447.88L1352.12 446.60L1354.91 445.33L1357.71 444.06L1360.50 442.80L1363.30 441.54L1366.09 440.29L1368.89 439.03L1371.68 437.79L1374.48 436.55L1377.28 435.31L1380.07 434.07L1382.87 432.84L1385.66 431.62L1388.46 430.39L1391.25 429.18L1394.05 427.96L1396.84 426.75L1399.64 425.55L1402.43 424.34L1405.23 423.15L1408.02 421.95L1410.82 420.76L1413.61 419.58L1416.41 418.40L1419.21 417.22L1422.00 416.04L1424.80 414.87L1427.59 413.71L1430.39 412.55L1433.18 411.39L1435.98 410.23L1438.77 409.08L1441.57 407.94L1444.36 406.79L1447.16 405.65L1449.95 404.52L1452.75 403.39L1455.54 402.26L1458.34 401.13L1461.14 400.01L1463.93 398.90L1466.73 397.78L1469.52 396.68L1472.32 395.57L1475.11 394.47L1477.91 393.37L1480.70 392.28L1483.50 391.19L1486.29 390.10L1489.09 389.01L1491.88 387.94L1494.68 386.86L1497.47 385.79L1500.27 384.72L1503.07 383.65L1505.86 382.59L1508.66 381.53L1511.45 380.48L1514.25 379.43L1517.04 378.38L1519.84 377.33L1522.63 376.29L1525.43 375.25L1528.22 374.22L1531.02 373.19L1533.81 372.16L1536.61 371.14L1539.40 370.12L1542.20 369.10L1545.00 368.09L1547.79 367.08L1550.59 366.07L1553.38 365.07L1556.18 364.07L1558.97 363.07L1561.77 362.08L1564.56 361.09L1567.36 360.10L1570.15 359.12L1572.95 358.14L1575.74 357.16L1578.54 356.19L1581.33 355.22L1584.13 354.25L1586.93 353.29L1589.72 352.33L1592.52 351.37L1595.31 350.42L1598.11 349.47L1600.90 348.52L1603.70 347.57L1606.49 346.63L1609.29 345.69L1612.08 344.76L1614.88 343.83L1617.67 342.90L1620.47 341.97L1623.26 341.05L1626.06 340.13L1628.86 339.21L1631.65 338.30L1634.45 337.39L1637.24 336.48L1640.04 335.58L1642.83 334.67L1645.63 333.78L1648.42 332.88L1651.22 331.99L1654.01 331.10L1656.81 330.21L1659.60 329.33L1662.40 328.45L1665.19 327.57L1667.99 326.70L1670.79 325.82L1673.58 324.95L1676.38 324.09L1679.17 323.23L1681.97 322.37L1684.76 321.51L1687.56 320.65L1690.35 319.80L1693.15 318.95L1695.94 318.11L1698.74 317.26L1701.53 316.42L1704.33 315.59L1707.12 314.75L1709.92 313.92L1712.72 313.09L1715.51 312.26L1718.31 311.44L1721.10 310.62L1723.90 309.80L1726.69 308.99L1729.49 308.17L1732.28 307.36L1735.08 306.56L1737.87 305.75L1740.67 304.95L1743.46 304.15L1746.26 303.35L1749.05 302.56L1751.85 301.77L1754.65 300.98L1757.44 300.19L1760.24 299.41L1763.03 298.63L1765.83 297.85L1768.62 297.08L1771.42 296.30L1774.21 295.53L1777.01 294.76L1779.80 294.00L1782.60 293.24L1785.39 292.48L1788.19 291.72L1790.98 290.96L1793.78 290.21L1796.58 289.46L1799.37 288.71L1802.17 287.97L1804.96 287.23L1807.76 286.49L1810.55 285.75L1813.35 285.01L1816.14 284.28L1818.94 283.55L1821.73 282.82L1824.53 282.10L1827.32 281.37L1830.12 280.65L1832.91 279.94L1835.71 279.22L1838.51 278.51L1841.30 277.80L1844.10 277.09L1846.89 276.38L1849.69 275.68L1852.48 274.98L1855.28 274.28L1858.07 273.58L1860.87 272.88L1863.66 272.19L1866.46 271.50L1869.25 270.82L1872.05 270.13L1874.84 269.45L1877.64 268.77L1880.44 268.09L1883.23 267.41L1886.03 266.74L1888.82 266.07L1891.62 265.40L1894.41 264.73L1897.21 264.06L1900.00 263.40L1902.80 262.74L1905.59 262.08L1908.39 261.43L1911.18 260.77L1913.98 260.12L1916.77 259.47L1919.57 258.82L1922.37 258.18L1925.16 257.54L1927.96 256.89L1930.75 256.26L1933.55 255.62L1936.34 254.98L1939.14 254.35L1941.93 253.72L1944.73 253.09L1947.52 252.47L1950.32 251.84L1953.11 251.22L1955.91 250.60L1958.70 249.98L1961.50 249.37" stroke="#00ffff" stroke-width="9.0" fill="none" stroke-linejoin="round" stroke-linecap="butt" shape-rendering="crispEdges"/>
<path d="M281.50 1465.50L284.30 1432.32L287.10 1429.83L289.89 1427.35L292.69 1424.88L295.48 1422.40L298.28 1419.94L301.07 1417.47L303.87 1415.01L306.66 1412.56L309.46 1410.11L312.25 1407.66L315.05 1405.22L317.84 1402.79L320.64 1400.35L323.43 1397.93L326.23 1395.50L329.03 1393.08L331.82 1390.67L334.62 1388.26L337.41 1385.85L340.21 1383.45L343.00 1381.05L345.80 1378.66L348.59 1376.27L351.39 1373.89L354.18 1371.51L356.98 1369.13L359.77 1366.76L362.57 1364.40L365.36 1362.03L368.16 1359.68L370.96 1357.32L373.75 1354.97L376.55 1352.63L379.34 1350.29L382.14 1347.95L384.93 1345.62L387.73 1343.29L390.52 1340.96L393.32 1338.64L396.11 1336.33L398.91 1334.02L401.70 1331.71L404.50 1329.41L407.29 1327.11L410.09 1324.81L412.89 1322.52L415.68 1320.24L418.48 1317.95L421.27 1315.68L424.07 1313.40L426.86 1311.13L429.66 1308.87L432.45 1306.61L435.25 1304.35L438.04 1302.10L440.84 1299.85L443.63 1297.60L446.43 1295.36L449.22 1293.12L452.02 1290.89L454.82 1288.66L457.61 1286.44L460.41 1284.22L463.20 1282.00L466.00 1279.79L468.79 1277.58L471.59 1275.37L474.38 1273.17L477.18 1270.98L479.97 1268.79L482.77 1266.60L485.56 1264.41L488.36 1262.23L491.15 1260.06L493.95 1257.88L496.75 1255.71L499.54 1253.55L502.34 1251.39L505.13 1249.23L507.93 1247.08L510.72 1244.93L513.52 1242.78L516.31 1240.64L519.11 1238.51L521.90 1236.37L524.70 1234.24L527.49 1232.12L530.29 1229.99L533.08 1227.88L535.88 1225.76L538.68 1223.65L541.47 1221.55L544.27 1219.44L547.06 1217.34L549.86 1215.25L552.65 1213.16L555.45 1211.07L558.24 1208.99L561.04 1206.91L563.83 1204.83L566.63 1202.76L569.42 1200.69L572.22 1198.63L575.01 1196.57L577.81 1194.51L580.61 1192.46L583.40 1190.41L586.20 1188.36L588.99 1186.32L591.79 1184.28L594.58 1182.24L597.38 1180.21L600.17 1178.19L602.97 1176.16L605.76 1174.14L608.56 1172.13L611.35 1170.11L614.15 1168.10L616.94 1166.10L619.74 1164.10L622.54 1162.10L625.33 1160.10L628.13 1158.11L630.92 1156.13L633.72 1154.14L636.51 1152.16L639.31 1150.19L642.10 1148.21L644.90 1146.24L647.69 1144.28L650.49 1142.32L653.28 1140.36L656.08 1138.40L658.87 1136.45L661.67 1134.50L664.47 1132.56L667.26 1130.62L670.06 1128.68L672.85 1126.75L675.65 1124.82L678.44 1122.89L681.24 1120.97L684.03 1119.05L686.83 1117.13L689.62 1115.22L692.42 1113.31L695.21 1111.40L698.01 1109.50L700.80 1107.60L703.60 1105.71L706.40 1103.82L709.19 1101.93L711.99 1100.04L714.78 1098.16L717.58 1096.28L720.37 1094.41L723.17 1092.54L725.96 1090.67L728.76 1088.80L731.55 1086.94L734.35 1085.08L737.14 1083.23L739.94 1081.38L742.73 1079.53L745.53 1077.69L748.33 1075.85L751.12 1074.01L753.92 1072.17L756.71 1070.34L759.51 1068.52L762.30 1066.69L765.10 1064.87L767.89 1063.05L770.69 1061.24L773.48 1059.43L776.28 1057.62L779.07 1055.81L781.87 1054.01L784.66 1052.22L787.46 1050.42L790.26 1048.63L793.05 1046.84L795.85 1045.06L798.64 1043.28L801.44 1041.50L804.23 1039.72L807.03 1037.95L809.82 1036.18L812.62 1034.42L815.41 1032.65L818.21 1030.89L821.00 1029.14L823.80 1027.39L826.59 1025.64L829.39 1023.89L832.19 1022.15L834.98 1020.41L837.78 1018.67L840.57 1016.94L843.37 1015.21L846.16 1013.48L848.96 1011.75L851.75 1010.03L854.55 1008.32L857.34 1006.60L860.14 1004.89L862.93 1003.18L865.73 1001.48L868.52 999.77L871.32 998.07L874.12 996.38L876.91 994.68L879.71 992.99L882.50 991.31L885.30 989.62L888.09 987.94L890.89 986.27L893.68 984.59L896.48 982.92L899.27 981.25L902.07 979.58L904.86 977.92L907.66 976.26L910.45 974.61L913.25 972.95L916.05 971.30L918.84 969.65L921.64 968.01L924.43 966.37L927.23 964.73L930.02 963.09L932.82 961.46L935.61 959.83L938.41 958.21L941.20 956.58L944.00 954.96L946.79 953.34L949.59 951.73L952.38 950.12L955.18 948.51L957.98 946.90L960.77 945.30L963.57 943.70L966.36 942.10L969.16 940.51L971.95 938.92L974.75 937.33L977.54 935.74L980.34 934.16L983.13 932.58L985.93 931.00L988.72 929.43L991.52 927.86L994.31 926.29L997.11 924.72L999.91 923.16L1002.70 921.60L1005.50 920.04L1008.29 918.49L1011.09 916.94L1013.88 915.39L1016.68 913.84L1019.47 912.30L1022.27 910.76L1025.06 909.22L1027.86 907.69L1030.65 906.16L1033.45 904.63L1036.24 903.10L1039.04 901.58L1041.84 900.06L1044.63 898.54L1047.43 897.02L1050.22 895.51L1053.02 894.00L1055.81 892.50L1058.61 890.99L1061.40 889.49L1064.20 887.99L1066.99 886.49L1069.79 885.00L1072.58 883.51L1075.38 882.02L1078.17 880.54L1080.97 879.06L1083.77 877.58L1086.56 876.10L1089.36 874.62L1092.15 873.15L1094.95 871.68L1097.74 870.22L1100.54 868.75L1103.33 867.29L1106.13 865.84L1108.92 864.38L1111.72 862.93L1114.51 861.48L1117.31 860.03L1120.10 858.58L1122.90 857.14L1125.70 855.70L1128.49 854.26L1131.29 852.83L1134.08 851.40L1136.88 849.97L1139.67 848.54L1142.47 847.12L1145.26 845.70L1148.06 844.28L1150.85 842.86L1153.65 841.45L1156.44 840.03L1159.24 838.63L1162.03 837.22L1164.83 835.82L1167.63 834.42L1170.42 833.02L1173.22 831.62L1176.01 830.23L1178.81 828.84L1181.60 827.45L1184.40 826.06L1187.19 824.68L1189.99 823.30L1192.78 821.92L1195.58 820.54L1198.37 819.17L1201.17 817.80L1203.96 816.43L1206.76 815.07L1209.56 813.70L1212.35 812.34L1215.15 810.98L1217.94 809.63L1220.74 808.27L1223.53 806.92L1226.33 805.57L1229.12 804.23L1231.92 802.89L1234.71 801.54L1237.51 800.21L1240.30 798.87L1243.10 797.54L1245.89 796.20L1248.69 794.87L1251.49 793.55L1254.28 792.22L1257.08 790.90L1259.87 789.58L1262.67 788.27L1265.46 786.95L1268.26 785.64L1271.05 784.33L1273.85 783.02L1276.64 781.72L1279.44 780.41L1282.23 779.11L1285.03 777.82L1287.82 776.52L1290.62 775.23L1293.42 773.94L1296.21 772.65L1299.01 771.36L1301.80 770.08L1304.60 768.80L1307.39 767.52L1310.19 766.24L1312.98 764.97L1315.78 763.69L1318.57 762.42L1321.37 761.16L1324.16 759.89L1326.96 758.63L1329.75 757.37L1332.55 756.11L1335.35 754.85L1338.14 753.60L1340.94 752.35L1343.73 751.10L1346.53 749.85L1349.32 748.61L1352.12 747.36L1354.91 746.12L1357.71 744.89L1360.50 743.65L1363.30 742.42L1366.09 741.19L1368.89 739.96L1371.68 738.73L1374.48 737.51L1377.28 736.28L1380.07 735.06L1382.87 733.85L1385.66 732.63L1388.46 731.42L1391.25 730.21L1394.05 729.00L1396.84 727.79L1399.64 726.59L1402.43 725.38L1405.23 724.18L1408.02 722.99L1410.82 721.79L1413.61 720.60L1416.41 719.40L1419.21 718.21L1422.00 717.03L1424.80 715.84L1427.59 714.66L1430.39 713.48L1433.18 712.30L1435.98 711.12L1438.77 709.95L1441.57 708.78L1444.36 707.61L1447.16 706.44L1449.95 705.27L1452.75 704.11L1455.54 702.95L1458.34 701.79L1461.14 700.63L1463.93 699.48L1466.73 698.32L1469.52 697.17L1472.32 696.02L1475.11 694.88L1477.91 693.73L1480.70 692.59L1483.50 691.45L1486.29 690.31L1489.09 689.17L1491.88 688.04L1494.68 686.91L1497.47 685.78L1500.27 684.65L1503.07 683.52L1505.86 682.40L1508.66 681.28L1511.45 680.16L1514.25 679.04L1517.04 677.92L1519.84 676.81L1522.63 675.70L1525.43 674.59L1528.22 673.48L1531.02 672.37L1533.81 671.27L1536.61 670.17L1539.40 669.07L1542.20 667.97L1545.00 666.88L1547.79 665.78L1550.59 664.69L1553.38 663.60L1556.18 662.51L1558.97 661.43L1561.77 660.34L1564.56 659.26L1567.36 658.18L1570.15 657.10L1572.95 656.03L1575.74 654.95L1578.54 653.88L1581.33 652.81L1584.13 651.74L1586.93 650.68L1589.72 649.61L1592.52 648.55L1595.31 647.49L1598.11 646.43L1600.90 645.37L1603.70 644.32L1606.49 643.27L1609.29 642.22L1612.08 641.17L1614.88 640.12L1617.67 639.08L1620.47 638.03L1623.26 636.99L1626.06 635.95L1628.86 634.91L1631.65 633.88L1634.45 632.84L1637.24 631.81L1640.04 630.78L1642.83 629.75L1645.63 628.73L1648.42 627.70L1651.22 626.68L1654.01 625.66L1656.81 624.64L1659.60 623.62L1662.40 622.61L1665.19 621.60L1667.99 620.58L1670.79 619.58L1673.58 618.57L1676.38 617.56L1679.17 616.56L1681.97 615.56L1684.76 614.55L1687.56 613.56L1690.35 612.56L1693.15 611.56L1695.94 610.57L1698.74 609.58L1701.53 608.59L1704.33 607.60L1707.12 606.62L1709.92 605.63L1712.72 604.65L1715.51 603.67L1718.31 602.69L1721.10 601.71L1723.90 600.74L1726.69 599.76L1729.49 598.79L1732.28 597.82L1735.08 596.85L1737.87 595.89L1740.67 594.92L1743.46 593.96L1746.26 593.00L1749.05 592.04L1751.85 591.08L1754.65 590.13L1757.44 589.17L1760.24 588.22L1763.03 587.27L1765.83 586.32L1768.62 585.37L1771.42 584.43L1774.21 583.48L1777.01 582.54L1779.80 581.60L1782.60 580.66L1785.39 579.73L1788.19 578.79L1790.98 577.86L1793.78 576.92L1796.58 575.99L1799.37 575.07L1802.17 574.14L1804.96 573.21L1807.76 572.29L1810.55 571.37L1813.35 570.45L1816.14 569.53L1818.94 568.61L1821.73 567.70L1824.53 566.79L1827.32 565.87L1830.12 564.96L1832.91 564.06L1835.71 563.15L1838.51 562.24L1841.30 561.34L1844.10 560.44L1846.89 559.54L1849.69 558.64L1852.48 557.74L1855.28 556.85L1858.07 555.95L1860.87 555.06L1863.66 554.17L1866.46 553.28L1869.25 552.40L1872.05 551.51L1874.84 550.63L1877.64 549.74L1880.44 548.86L1883.23 547.98L1886.03 547.11L1888.82 546.23L1891.62 545.36L1894.41 544.48L1897.21 543.61L1900.00 542.74L1902.80 541.87L1905.59 541.01L1908.39 540.14L1911.18 539.28L1913.98 538.42L1916.77 537.56L1919.57 536.70L1922.37 535.84L1925.16 534.99L1927.96 534.13L1930.75 533.28L1933.55 532.43L1936.34 531.58L1939.14 530.73L1941.93 529.89L1944.73 529.04L1947.52 528.20L1950.32 527.36L1953.11 526.52L1955.91 525.68L1958.70 524.84L1961.50 524.01" stroke="#00ff00" stroke-width="9.0" fill="none" stroke-linejoin="round" stroke-linecap="butt" shape-rendering="crispEdges"/>
<path d="M281.50 1465.50L284.30 1432.32L287.10 1431.02L289.89 1429.71L292.69 1428.41L295.48 1427.11L298.28 1425.81L301.07 1424.52L303.87 1423.22L306.66 1421.92L309.46 1420.63L312.25 1419.34L315.05 1418.05L317.84 1416.75L320.64 1415.47L323.43 1414.18L326.23 1412.89L329.03 1411.61L331.82 1410.32L334.62 1409.04L337.41 1407.76L340.21 1406.48L343.00 1405.20L345.80 1403.92L348.59 1402.64L351.39 1401.37L354.18 1400.09L356.98 1398.82L359.77 1397.55L362.57 1396.28L365.36 1395.01L368.16 1393.74L370.96 1392.47L373.75 1391.21L376.55 1389.94L379.34 1388.68L382.14 1387.42L384.93 1386.15L387.73 1384.89L390.52 1383.64L393.32 1382.38L396.11 1381.12L398.91 1379.87L401.70 1378.61L404.50 1377.36L407.29 1376.11L410.09 1374.86L412.89 1373.61L415.68 1372.36L418.48 1371.12L421.27 1369.87L424.07 1368.63L426.86 1367.38L429.66 1366.14L432.45 1364.90L435.25 1363.66L438.04 1362.42L440.84 1361.18L443.63 1359.95L446.43 1358.71L449.22 1357.48L452.02 1356.25L454.82 1355.02L457.61 1353.79L460.41 1352.56L463.20 1351.33L466.00 1350.10L468.79 1348.88L471.59 1347.65L474.38 1346.43L477.18 1345.21L479.97 1343.99L482.77 1342.77L485.56 1341.55L488.36 1340.33L491.15 1339.11L493.95 1337.90L496.75 1336.69L499.54 1335.47L502.34 1334.26L505.13 1333.05L507.93 1331.84L510.72 1330.63L513.52 1329.43L516.31 1328.22L519.11 1327.02L521.90 1325.81L524.70 1324.61L527.49 1323.41L530.29 1322.21L533.08 1321.01L535.88 1319.81L538.68 1318.62L541.47 1317.42L544.27 1316.23L547.06 1315.03L549.86 1313.84L552.65 1312.65L555.45 1311.46L558.24 1310.27L561.04 1309.09L563.83 1307.90L566.63 1306.71L569.42 1305.53L572.22 1304.35L575.01 1303.16L577.81 1301.98L580.61 1300.80L583.40 1299.63L586.20 1298.45L588.99 1297.27L591.79 1296.10L594.58 1294.92L597.38 1293.75L600.17 1292.58L602.97 1291.41L605.76 1290.24L608.56 1289.07L611.35 1287.90L614.15 1286.74L616.94 1285.57L619.74 1284.41L622.54 1283.25L625.33 1282.08L628.13 1280.92L630.92 1279.76L633.72 1278.60L636.51 1277.45L639.31 1276.29L642.10 1275.14L644.90 1273.98L647.69 1272.83L650.49 1271.68L653.28 1270.53L656.08 1269.38L658.87 1268.23L661.67 1267.08L664.47 1265.94L667.26 1264.79L670.06 1263.65L672.85 1262.50L675.65 1261.36L678.44 1260.22L681.24 1259.08L684.03 1257.94L686.83 1256.80L689.62 1255.67L692.42 1254.53L695.21 1253.40L698.01 1252.27L700.80 1251.13L703.60 1250.00L706.40 1248.87L709.19 1247.74L711.99 1246.62L714.78 1245.49L717.58 1244.36L720.37 1243.24L723.17 1242.11L725.96 1240.99L728.76 1239.87L731.55 1238.75L734.35 1237.63L737.14 1236.51L739.94 1235.40L742.73 1234.28L745.53 1233.16L748.33 1232.05L751.12 1230.94L753.92 1229.83L756.71 1228.72L759.51 1227.61L762.30 1226.50L765.10 1225.39L767.89 1224.28L770.69 1223.18L773.48 1222.07L776.28 1220.97L779.07 1219.87L781.87 1218.77L784.66 1217.67L787.46 1216.57L790.26 1215.47L793.05 1214.37L795.85 1213.28L798.64 1212.18L801.44 1211.09L804.23 1209.99L807.03 1208.90L809.82 1207.81L812.62 1206.72L815.41 1205.63L818.21 1204.55L821.00 1203.46L823.80 1202.37L826.59 1201.29L829.39 1200.21L832.19 1199.12L834.98 1198.04L837.78 1196.96L840.57 1195.88L843.37 1194.80L846.16 1193.73L848.96 1192.65L851.75 1191.57L854.55 1190.50L857.34 1189.43L860.14 1188.35L862.93 1187.28L865.73 1186.21L868.52 1185.14L871.32 1184.08L874.12 1183.01L876.91 1181.94L879.71 1180.88L882.50 1179.81L885.30 1178.75L888.09 1177.69L890.89 1176.63L893.68 1175.57L896.48 1174.51L899.27 1173.45L902.07 1172.39L904.86 1171.34L907.66 1170.28L910.45 1169.23L913.25 1168.18L916.05 1167.12L918.84 1166.07L921.64 1165.02L924.43 1163.97L927.23 1162.93L930.02 1161.88L932.82 1160.83L935.61 1159.79L938.41 1158.75L941.20 1157.70L944.00 1156.66L946.79 1155.62L949.59 1154.58L952.38 1153.54L955.18 1152.50L957.98 1151.47L960.77 1150.43L963.57 1149.39L966.36 1148.36L969.16 1147.33L971.95 1146.30L974.75 1145.26L977.54 1144.23L980.34 1143.21L983.13 1142.18L985.93 1141.15L988.72 1140.12L991.52 1139.10L994.31 1138.07L997.11 1137.05L999.91 1136.03L1002.70 1135.01L1005.50 1133.99L1008.29 1132.97L1011.09 1131.95L1013.88 1130.93L1016.68 1129.92L1019.47 1128.90L1022.27 1127.89L1025.06 1126.87L1027.86 1125.86L1030.65 1124.85L1033.45 1123.84L1036.24 1122.83L1039.04 1121.82L1041.84 1120.81L1044.63 1119.81L1047.43 1118.80L1050.22 1117.79L1053.02 1116.79L1055.81 1115.79L1058.61 1114.79L1061.40 1113.78L1064.20 1112.78L1066.99 1111.79L1069.79 1110.79L1072.58 1109.79L1075.38 1108.79L1078.17 1107.80L1080.97 1106.80L1083.77 1105.81L1086.56 1104.82L1089.36 1103.83L1092.15 1102.84L1094.95 1101.85L1097.74 1100.86L1100.54 1099.87L1103.33 1098.88L1106.13 1097.90L1108.92 1096.91L1111.72 1095.93L1114.51 1094.95L1117.31 1093.96L1120.10 1092.98L1122.90 1092.00L1125.70 1091.02L1128.49 1090.05L1131.29 1089.07L1134.08 1088.09L1136.88 1087.12L1139.67 1086.14L1142.47 1085.17L1145.26 1084.20L1148.06 1083.22L1150.85 1082.25L1153.65 1081.28L1156.44 1080.31L1159.24 1079.35L1162.03 1078.38L1164.83 1077.41L1167.63 1076.45L1170.42 1075.48L1173.22 1074.52L1176.01 1073.56L1178.81 1072.59L1181.60 1071.63L1184.40 1070.67L1187.19 1069.71L1189.99 1068.76L1192.78 1067.80L1195.58 1066.84L1198.37 1065.89L1201.17 1064.93L1203.96 1063.98L1206.76 1063.03L1209.56 1062.08L1212.35 1061.13L1215.15 1060.18L1217.94 1059.23L1220.74 1058.28L1223.53 1057.33L1226.33 1056.39L1229.12 1055.44L1231.92 1054.50L1234.71 1053.55L1237.51 1052.61L1240.30 1051.67L1243.10 1050.73L1245.89 1049.79L1248.69 1048.85L1251.49 1047.91L1254.28 1046.97L1257.08 1046.04L1259.87 1045.10L1262.67 1044.17L1265.46 1043.23L1268.26 1042.30L1271.05 1041.37L1273.85 1040.44L1276.64 1039.51L1279.44 1038.58L1282.23 1037.65L1285.03 1036.72L1287.82 1035.80L1290.62 1034.87L1293.42 1033.95L1296.21 1033.02L1299.01 1032.10L1301.80 1031.18L1304.60 1030.26L1307.39 1029.34L1310.19 1028.42L1312.98 1027.50L1315.78 1026.58L1318.57 1025.66L1321.37 1024.75L1324.16 1023.83L1326.96 1022.92L1329.75 1022.00L1332.55 1021.09L1335.35 1020.18L1338.14 1019.27L1340.94 1018.36L1343.73 1017.45L1346.53 1016.54L1349.32 1015.64L1352.12 1014.73L1354.91 1013.82L1357.71 1012.92L1360.50 1012.01L1363.30 1011.11L1366.09 1010.21L1368.89 1009.31L1371.68 1008.41L1374.48 1007.51L1377.28 1006.61L1380.07 1005.71L1382.87 1004.82L1385.66 1003.92L1388.46 1003.02L1391.25 1002.13L1394.05 1001.24L1396.84 1000.34L1399.64 999.45L1402.43 998.56L1405.23 997.67L1408.02 996.78L1410.82 995.89L1413.61 995.01L1416.41 994.12L1419.21 993.23L1422.00 992.35L1424.80 991.46L1427.59 990.58L1430.39 989.70L1433.18 988.82L1435.98 987.94L1438.77 987.06L1441.57 986.18L1444.36 985.30L1447.16 984.42L1449.95 983.54L1452.75 982.67L1455.54 981.79L1458.34 980.92L1461.14 980.05L1463.93 979.17L1466.73 978.30L1469.52 977.43L1472.32 976.56L1475.11 975.69L1477.91 974.82L1480.70 973.96L1483.50 973.09L1486.29 972.22L1489.09 971.36L1491.88 970.49L1494.68 969.63L1497.47 968.77L1500.27 967.91L1503.07 967.05L1505.86 966.19L1508.66 965.33L1511.45 964.47L1514.25 963.61L1517.04 962.75L1519.84 961.90L1522.63 961.04L1525.43 960.19L1528.22 959.33L1531.02 958.48L1533.81 957.63L1536.61 956.78L1539.40 955.93L1542.20 955.08L1545.00 954.23L1547.79 953.38L1550.59 952.54L1553.38 951.69L1556.18 950.84L1558.97 950.00L1561.77 949.16L1564.56 948.31L1567.36 947.47L1570.15 946.63L1572.95 945.79L1575.74 944.95L1578.54 944.11L1581.33 943.27L1584.13 942.43L1586.93 941.60L1589.72 940.76L1592.52 939.93L1595.31 939.09L1598.11 938.26L1600.90 937.43L1603.70 936.60L1606.49 935.76L1609.29 934.93L1612.08 934.10L1614.88 933.28L1617.67 932.45L1620.47 931.62L1623.26 930.79L1626.06 929.97L1628.86 929.14L1631.65 928.32L1634.45 927.50L1637.24 926.68L1640.04 925.85L1642.83 925.03L1645.63 924.21L1648.42 923.39L1651.22 922.58L1654.01 921.76L1656.81 920.94L1659.60 920.13L1662.40 919.31L1665.19 918.50L1667.99 917.68L1670.79 916.87L1673.58 916.06L1676.38 915.24L1679.17 914.43L1681.97 913.62L1684.76 912.82L1687.56 912.01L1690.35 911.20L1693.15 910.39L1695.94 909.59L1698.74 908.78L1701.53 907.98L1704.33 907.17L1707.12 906.37L1709.92 905.57L1712.72 904.77L1715.51 903.97L1718.31 903.17L1721.10 902.37L1723.90 901.57L1726.69 900.77L1729.49 899.97L1732.28 899.18L1735.08 898.38L1737.87 897.59L1740.67 896.79L1743.46 896.00L1746.26 895.21L1749.05 894.42L1751.85 893.63L1754.65 892.84L1757.44 892.05L1760.24 891.26L1763.03 890.47L1765.83 889.68L1768.62 888.90L1771.42 888.11L1774.21 887.33L1777.01 886.54L1779.80 885.76L1782.60 884.98L1785.39 884.20L1788.19 883.42L1790.98 882.64L1793.78 881.86L1796.58 881.08L1799.37 880.30L1802.17 879.52L1804.96 878.75L1807.76 877.97L1810.55 877.19L1813.35 876.42L1816.14 875.65L1818.94 874.87L1821.73 874.10L1824.53 873.33L1827.32 872.56L1830.12 871.79L1832.91 871.02L1835.71 870.25L1838.51 869.48L1841.30 868.72L1844.10 867.95L1846.89 867.19L1849.69 866.42L1852.48 865.66L1855.28 864.89L1858.07 864.13L1860.87 863.37L1863.66 862.61L1866.46 861.85L1869.25 861.09L1872.05 860.33L1874.84 859.57L1877.64 858.81L1880.44 858.06L1883.23 857.30L1886.03 856.54L1888.82 855.79L1891.62 855.04L1894.41 854.28L1897.21 853.53L1900.00 852.78L1902.80 852.03L1905.59 851.28L1908.39 850.53L1911.18 849.78L1913.98 849.03L1916.77 848.28L1919.57 847.54L1922.37 846.79L1925.16 846.04L1927.96 845.30L1930.75 844.56L1933.55 843.81L1936.34 843.07L1939.14 842.33L1941.93 841.59L1944.73 840.85L1947.52 840.11L1950.32 839.37L1953.11 838.63L1955.91 837.89L1958.70 837.16L1961.50 836.42" stroke="#000000" stroke-width="9.0" fill="none" stroke-linejoin="round" stroke-linecap="butt" shape-rendering="crispEdges"/>
<circle cx="281.00" cy="1465.50" r="26.6" stroke="#ff0000" stroke-width="9" fill="none" shape-rendering="crispEdges"/>
<circle cx="561.00" cy="1243.06" r="26.6" stroke="#ff0000" stroke-width="9" fill="none" shape-rendering="crispEdges"/>
<circle cx="841.00" cy="1041.06" r="26.6" stroke="#ff0000" stroke-width="9" fill="none" shape-rendering="crispEdges"/>
<circle cx="1121.40" cy="879.90" r="26.6" stroke="#ff0000" stroke-width="9" fill="none" shape-rendering="crispEdges"/>
<circle cx="1401.50" cy="807.94" r="26.6" stroke="#ff0000" stroke-width="9" fill="none" shape-rendering="crispEdges"/>
<circle cx="1681.50" cy="636.97" r="26.6" stroke="#ff0000" stroke-width="9" fill="none" shape-rendering="crispEdges"/>
<circle cx="1961.50" cy="592.50" r="26.6" stroke="#ff0000" stroke-width="9" fill="none" shape-rendering="crispEdges"/>
<rect x="1442.5" y="1013.5" width="509.0" height="442.0" fill="#ffffff" stroke="#262626" stroke-width="1"/>
<path d="M1469 1048.0h41M1489.5 1028.0v40" stroke="#ff0000" stroke-width="8.4" fill="none" shape-rendering="crispEdges"/>
<path d="M1450 1110.2H1530" stroke="#0000ff" stroke-width="8.8" fill="none"/>
<path d="M1450 1172.3H1530" stroke="#ff0000" stroke-width="8.8" fill="none"/>
<path d="M1450 1234.5H1530" stroke="#00ffff" stroke-width="8.8" fill="none"/>
<path d="M1450 1296.6H1530" stroke="#00ff00" stroke-width="8.8" fill="none"/>
<path d="M1450 1358.8H1530" stroke="#000000" stroke-width="8.8" fill="none"/>
<circle cx="1489.4" cy="1420.9" r="23.9" stroke="#ff0000" stroke-width="8.8" fill="none" shape-rendering="crispEdges"/>
<text transform="translate(1535.4 1067.20) scale(1 1.03)" font-size="47.15" fill="#000000">Random deposition</text>
<text transform="translate(1535.4 1129.35) scale(1 1.03)" font-size="47.15" fill="#000000">x = 0</text>
<text transform="translate(1535.4 1191.50) scale(1 1.03)" font-size="47.15" fill="#000000">x = 1</text>
<text transform="translate(1535.4 1253.65) scale(1 1.03)" font-size="47.15" fill="#000000">x = 5</text>
<text transform="translate(1535.4 1315.80) scale(1 1.03)" font-size="47.15" fill="#000000">x = 10</text>
<text transform="translate(1535.4 1377.95) scale(1 1.03)" font-size="47.15" fill="#000000">x = 20</text>
<text transform="translate(1535.4 1440.10) scale(1 1.03)" font-size="47.15" fill="#000000">Experiment</text>
</svg></body></html>
